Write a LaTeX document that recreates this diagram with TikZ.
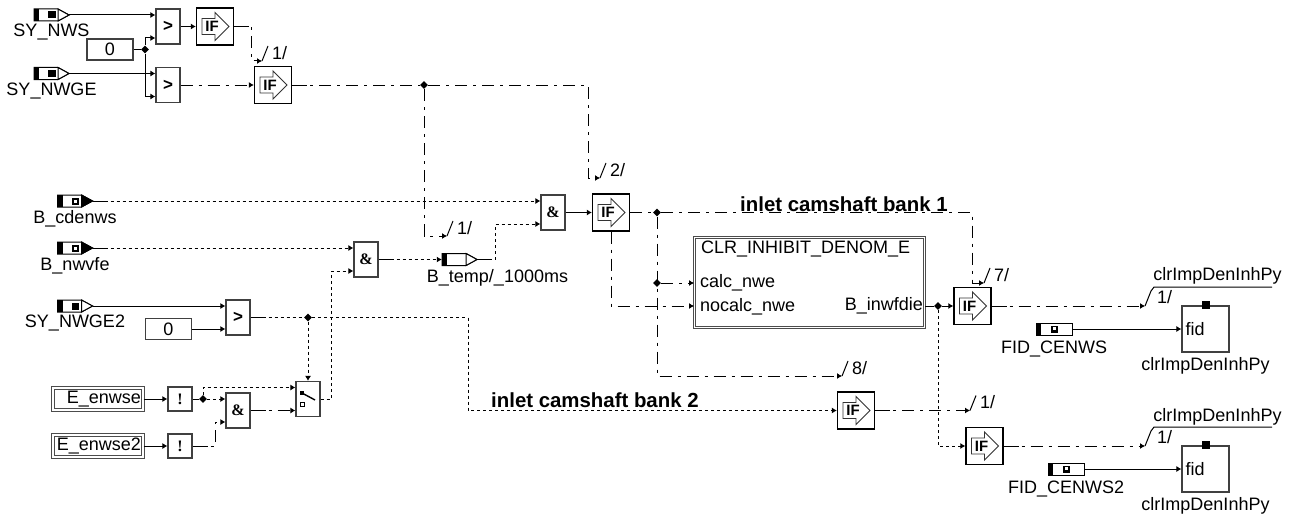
\documentclass[tikz,border=0pt]{standalone}
\usepackage{fontspec}
\setmainfont{Liberation Sans}
\newfontfamily\blockfont{Liberation Serif}
\usetikzlibrary{positioning, arrows.meta, shapes.geometric}
\tikzset{block_t/.style={draw=black!75, line width=1.1pt, fill=white, inner sep=0pt, minimum width=24pt, minimum height=35pt, font=\fontsize{17}{17}\selectfont\bfseries},
bool_t/.style={block_t, font=\fontsize{16}{16}\blockfont\bfseries},
not_t/.style={bool_t, minimum height=24pt},
if_t/.style={draw, line width=1.2pt, fill=white, inner sep=0pt, minimum size=37pt},
const_t/.style={draw=black!75, line width=1.1pt, inner sep=0pt, minimum width=46pt, minimum height=21pt, font=\fontsize{18}{18}\selectfont},
param_t/.style={draw=black!70, double, double distance=1.2pt, line width=1pt, inner sep=2pt, text width=86pt, minimum height=22pt, align=right, font=\fontsize{18}{18}\selectfont},
port_t/.style={inner sep=0pt, minimum width=35pt, minimum height=12pt},
fid_t/.style={draw=black!75, line width=1.1pt, inner sep=0pt, minimum width=47pt, minimum height=46pt, text width=40pt, align=left, font=\fontsize{18}{18}\selectfont},
mark_t/.style={fill, inner sep=0pt, minimum size=8pt},
txt/.style={inner sep=0pt, font=\fontsize{18}{18}\selectfont},
head/.style={inner sep=0pt, font=\fontsize{20.4}{20}\selectfont\bfseries},
junc/.style={diamond, fill, inner sep=0pt, minimum size=8pt},
wire/.style={line width=1pt},
flow/.style={wire, -{Latex[length=5pt, width=6pt]}},
dotted_w/.style={dash pattern=on 3pt off 3pt},
dashdot_w/.style={dash pattern=on 12pt off 6pt on 3pt off 6pt}}
% input port: name, x, y, tip fill, inner fill
\newcommand{\inport}[5]{
  \node[port_t] (#1) at (#2,#3) {};
  \draw[shift={(#1.center)}, wire, fill=white] (-17.5,-6) -- (6.5,-6) -- (17.5,0) -- (6.5,6) -- (-17.5,6) -- cycle;
  \draw[shift={(#1.center)}, wire, fill=#4] (6.5,-6) -- (17.5,0) -- (6.5,6) -- cycle;
  \fill[shift={(#1.center)}] (-17.5,-6) rectangle (-12.5,6);
  \fill[shift={(#1.center)}, #5] (-3.5,-3.5) rectangle (4,3.5);
}
% IF block with its hollow arrow
\newcommand{\ifblock}[3]{
  \node[if_t] (#1) at (#2,#3) {};
  \draw[shift={(#1.center)}, line width=.9pt, black!80] (-13,-8) -- (0,-8) -- (0,-14) -- (14,0) -- (0,14) -- (0,8) -- (-13,8) -- cycle;
  \node[inner sep=0pt, font=\fontsize{15}{15}\selectfont\bfseries] at ([xshift=-3pt]#1.center) {IF};
}
% free end of a wire with its slash and number
\newcommand{\busend}[4]{
  \coordinate (#1) at (#2,#3);
  \draw[wire] (#1) -- ++(6,-15);
  \node[txt, anchor=west] at ([xshift=10pt, yshift=8pt]#1) {#4};
}
\begin{document}
\begin{tikzpicture}[x=1pt, y=-1pt]
  \useasboundingbox (0,0) rectangle (1290,519);
  % inputs
  \inport{synws}{51.5}{15}{white}{black}
  \inport{synwge}{51.5}{73.5}{white}{black}
  \inport{cdenws}{75}{201}{black}{black}
  \inport{nwvfe}{75}{248}{black}{black}
  \inport{synwgeb}{75}{306}{white}{black}
  \fill[white] (74,199.5) rectangle (77,202.5);
  \fill[white] (74,246.5) rectangle (77,249.5);
  \node[txt, below=3pt of synws] (lnws) {SY\_NWS};
  \node[txt, below=3pt of synwge] (lnwge) {SY\_NWGE};
  \node[txt, below=3pt of cdenws] (lcden) {B\_cdenws};
  \node[txt, below=3pt of nwvfe] (lnwv) {B\_nwvfe};
  \node[txt, below=3pt of synwgeb] (lnwgeb) {SY\_NWGE2};
  \node[const_t] (zeroa) at (110,49.5) {0};
  \node[const_t] (zerob) at (168.5,329) {0};
  \node[param_t] (enwse) at (98,399) {E\_enwse};
  \node[param_t] (enwseb) at (98,446) {E\_enwse2};
  % logic blocks
  \node[block_t] (gta) at (168,26.5) {>};
  \node[block_t] (gtb) at (168,85) {>};
  \node[block_t] (gtc) at (238,317.5) {>};
  \node[bool_t] (anda) at (553,212.5) {\&};
  \node[bool_t] (andb) at (366,259.5) {\&};
  \node[bool_t] (andc) at (238,410.5) {\&};
  \node[not_t] (nota) at (180,399) {!};
  \node[not_t] (notb) at (180,446) {!};
  \node[block_t] (swt) at (308,399) {};
  \draw[line width=1.4pt] (302,393) -- (315,400);
  \fill (300,391) rectangle (304,395);
  \draw[line width=1pt] (300,402) rectangle (304,406);
  \ifblock{ifa}{215}{26.5}
  \ifblock{ifb}{273}{85}
  \ifblock{ifc}{611}{212.5}
  \ifblock{ifd}{972.5}{306}
  \ifblock{ife}{856}{410.5}
  \ifblock{iff}{984.5}{446}
  % temp port
  \inport{btemp}{459.5}{259.5}{white}{white}
  \node[txt, below=4pt of btemp, xshift=38pt] (ltemp) {B\_temp/\_1000ms};
  % function box
  \node[draw=black!70, double, double distance=1.2pt, line width=1pt, minimum width=230pt, minimum height=90pt] (clr) at (809.5,282.5) {};
  \node[txt, anchor=west] (clrt) at (701,249) {CLR\_INHIBIT\_DENOM\_E};
  \node[txt, anchor=west] (calc) at (700,283) {calc\_nwe};
  \node[txt, anchor=west] (nocalc) at (700,307) {nocalc\_nwe};
  \node[txt, anchor=east] (inwf) at (923,306) {B\_inwfdie};
  % fid blocks
  \node[fid_t] (fida) at (1205.5,329) {fid};
  \node[fid_t] (fidb) at (1205.5,469) {fid};
  \node[mark_t] (fma) at (fida.north) {};
  \node[mark_t] (fmb) at (fidb.north) {};
  \node[txt, below=5pt of fida] (lfa) {clrImpDenInhPy};
  \node[txt, below=5pt of fidb] (lfb) {clrImpDenInhPy};
  \node[draw, wire, fill=white, inner sep=0pt, minimum width=36pt, minimum height=12pt] (cenws) at (1054,329) {};
  \node[draw, wire, fill=white, inner sep=0pt, minimum width=36pt, minimum height=12pt] (cenwsb) at (1066,469) {};
  \fill (1036,323) rectangle (1041,335);
  \fill (1048,463) rectangle (1053,475);
  \fill (1051,325.5) rectangle (1058,332.5);
  \fill (1063,465.5) rectangle (1070,472.5);
  \fill[white] (1053,327) rectangle (1056,330);
  \fill[white] (1065,467) rectangle (1068,470);
  \node[txt, below=5pt of cenws] (lcw) {FID\_CENWS};
  \node[txt, below=5pt of cenwsb] (lcwb) {FID\_CENWS2};
  % junctions
  \node[junc] (ja) at (145,49.5) {};
  \node[junc] (jb) at (424,85) {};
  \node[junc] (jc) at (308,317.5) {};
  \node[junc] (jd) at (203,399) {};
  \node[junc] (je) at (657,212.5) {};
  \node[junc] (jf) at (657,283) {};
  \node[junc] (jg) at (938,306) {};
  % wire ends
  \busend{busa}{262}{61}{1/}
  \busend{busb}{600}{178}{2/}
  \busend{busc}{447}{236}{1/}
  \busend{busd}{984}{283}{7/}
  \busend{buse}{842}{376}{8/}
  \busend{busf}{970}{410.5}{1/}
  \busend{busg}{1145}{306}{}
  \busend{bush}{1145}{446}{}
  \node[txt] (ng) at (1164.5,297) {1/};
  \node[txt] (nh) at (1164.5,437) {1/};
  \draw[wire] (1151,291) -- (1154,287) -- (1272,287);
  \draw[wire] (1151,431) -- (1154,427) -- (1272,427);
  \node[txt] (ta) at (1217.5,276) {clrImpDenInhPy};
  \node[txt] (tb) at (1217.5,417) {clrImpDenInhPy};
  \node[head, anchor=west] (hda) at (740,204) {inlet camshaft bank 1};
  \node[head, anchor=west] (hdb) at (491,400) {inlet camshaft bank 2};
  % top row
  \draw[flow] (synws.east) -- ([yshift=11.5pt]gta.west);
  \draw[flow] (synwge.east) -- ([yshift=11.5pt]gtb.west);
  \draw[wire] (zeroa.east) -- (ja);
  \draw[flow] (ja) |- ([yshift=-11.5pt]gta.west);
  \draw[flow] (ja) |- ([yshift=-11.5pt]gtb.west);
  \draw[flow] (gta.east) -- (ifa.west);
  \draw[flow, dashdot_w] (ifa.east) -- ++(17,0) |- (busa);
  \draw[flow, dashdot_w] (gtb.east) -- (ifb.west);
  \draw[wire, dashdot_w] (ifb.east) -- (jb);
  \draw[flow, dashdot_w] (jb) -- ++(164,0) |- (busb);
  \draw[flow, dashdot_w] (jb) |- (busc);
  % middle row
  \draw[flow, dotted_w] (cdenws.east) -- ([yshift=11.5pt]anda.west);
  \draw[flow, dotted_w] (nwvfe.east) -- ([yshift=11.5pt]andb.west);
  \draw[flow, dotted_w] (andb.east) -- (btemp.west);
  \draw[flow, dotted_w] (btemp.east) -- ++(18,0) |- ([yshift=-11.5pt]anda.west);
  \draw[flow] (anda.east) -- (ifc.west);
  \draw[flow] (synwgeb.east) -- ([yshift=11.5pt]gtc.west);
  \draw[flow] (zerob.east) -- ([yshift=-11.5pt]gtc.west);
  \draw[wire, dotted_w] (gtc.east) -- (jc);
  \draw[flow, dotted_w] (jc) -| ++(160,93) -- (ife.west |- 0,410.5);
  \draw[flow, dotted_w] (jc) -- (swt.north);
  \draw[flow, dotted_w] (swt.east) -- ++(11,0) |- ([yshift=-11.5pt]andb.west);
  % lower left
  \draw[flow] (enwse.east) -- (nota.west);
  \draw[flow] (enwseb.east) -- (notb.west);
  \draw[wire] (nota.east) -- (jd);
  \draw[flow, dotted_w] (jd) |- ([yshift=11.5pt]swt.west);
  \draw[flow, dotted_w] (jd) -- ([yshift=11.5pt]andc.west);
  \draw[flow, dashdot_w] (notb.east) -- ++(23,0) |- ([yshift=-11.5pt]andc.west);
  \draw[flow, dashdot_w] (andc.east) -- ([yshift=-11.5pt]swt.west);
  % right part
  \draw[wire, dashdot_w] (ifc.east) -- (je);
  \draw[flow, dashdot_w] (je) -- ++(315,0) |- (busd);
  \draw[flow, dashdot_w] (je) |- (buse);
  \draw[flow, dashdot_w] (jf) -- (jf -| clr.west);
  \draw[flow, dashdot_w] (ifc.south) |- ([yshift=-23.5pt]clr.west);
  \draw[wire] ([yshift=-23.5pt]clr.east) -- (jg);
  \draw[flow] (jg) -- (ifd.west);
  \draw[flow, dotted_w] (jg) |- (iff.west);
  \draw[flow, dashdot_w] (ifd.east) -- (busg);
  \draw[flow, dashdot_w] (iff.east) -- (bush);
  \draw[flow, dashdot_w] (ife.east) -- (busf);
  \draw[flow] (cenws.east) -- (fida.west);
  \draw[flow] (cenwsb.east) -- (fidb.west);
  % solid starts of the broken wires
  \foreach \s in {cdenws, nwvfe, btemp, gtc, ifb, ife, ifd, iff, notb, andc, andb, ifa}
    \draw[wire] (\s.east) -- ++(15,0);
\end{tikzpicture}
\end{document}
